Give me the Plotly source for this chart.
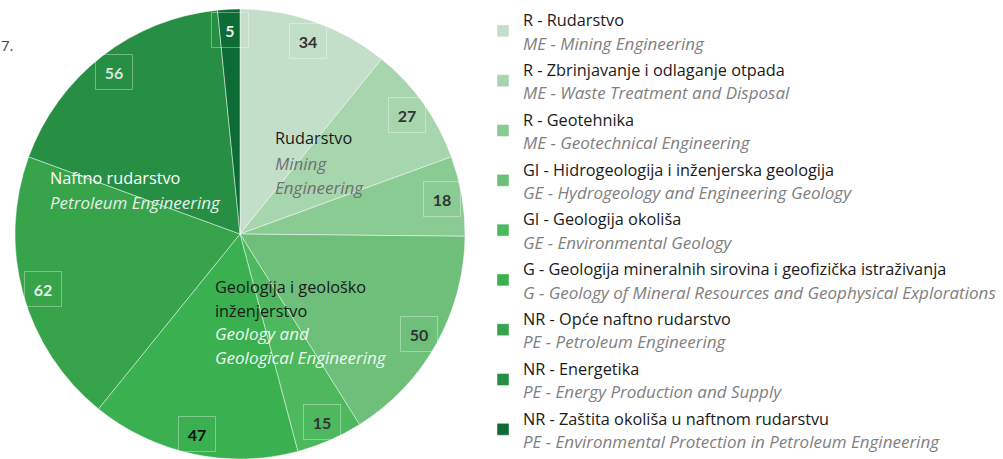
import math
import plotly.graph_objects as go

# ---------------- data ----------------
codes_hr = [
    "R - Rudarstvo",
    "R - Zbrinjavanje i odlaganje otpada",
    "R - Geotehnika",
    "GI - Hidrogeologija i inženjerska geologija",
    "GI - Geologija okoliša",
    "G - Geologija mineralnih sirovina i geofizička istraživanja",
    "NR - Opće naftno rudarstvo",
    "NR - Energetika",
    "NR - Zaštita okoliša u naftnom rudarstvu",
]
codes_en = [
    "ME - Mining Engineering",
    "ME - Waste Treatment and Disposal",
    "ME - Geotechnical Engineering",
    "GE - Hydrogeology and Engineering Geology",
    "GE - Environmental Geology",
    "G - Geology of Mineral Resources and Geophysical Explorations",
    "PE - Petroleum Engineering",
    "PE - Energy Production and Supply",
    "PE - Environmental Protection in Petroleum Engineering",
]
values = [34, 27, 18, 50, 15, 47, 62, 56, 5]
colors = ["#c4dfc9", "#a6d5ae", "#8acb94", "#6dbf79", "#4eb85f",
          "#3bb050", "#37a44c", "#278f44", "#0d6b36"]
value_text_colors = ["#333333", "#333333", "#333333", "#333333", "#333333",
                     "#111111", "#e4ece4", "#d8e6d8", "#e8f0e8"]

# ---------------- layout constants ----------------
W, H = 1003, 459
MT, MB, ML, MR = 9, 0, 0, 0
PW, PH = W - ML - MR, H - MT - MB
DOM_X = [0, 480 / PW]
FONT = "'Open Sans', Lato, sans-serif"
NUMFONT = "Lato, 'Open Sans', sans-serif"
REG, ITA = 16.3, 17

labels = [f"<span style='font-size:{REG}px'>{a}</span><br>"
          f"<span style='font-size:{ITA}px;color:#808080'><i>{b}</i></span>"
          for a, b in zip(codes_hr, codes_en)]

fig = go.Figure()
fig.add_trace(go.Pie(
    labels=labels,
    values=values,
    sort=False,
    direction="clockwise",
    rotation=0,
    marker=dict(colors=colors, line=dict(color="rgba(255,255,255,0.45)", width=1)),
    textinfo="none",
    hoverinfo="skip",
    domain=dict(x=DOM_X, y=[0, 1]),
    showlegend=True,
))

# value labels placed along each slice's mid-angle, near the rim
cx_px = (DOM_X[0] + DOM_X[1]) / 2 * PW
cy_px = PH / 2
R = min((DOM_X[1] - DOM_X[0]) * PW, PH) / 2
total = sum(values)
cum = 0
annotations = []
for v, tc in zip(values, value_text_colors):
    mid = (cum + v / 2) / total * 2 * math.pi
    cum += v
    r = 0.91 * R
    px = cx_px + r * math.sin(mid)
    py = cy_px - r * math.cos(mid)
    annotations.append(dict(
        x=px / PW, y=1 - py / PH, xref="paper", yref="paper",
        text=f"<b>{v}</b>", showarrow=False,
        font=dict(family=NUMFONT, size=16, color=tc),
        width=36, height=34, align="center", valign="middle",
        bordercolor="rgba(255,255,255,0.35)", borderwidth=1, borderpad=0,
        xanchor="center", yanchor="middle",
    ))

def txt(x, y, text, color, italic=False, size=REG):
    if italic:
        text = f"<i>{text}</i>"
        size = ITA
    annotations.append(dict(
        x=x / PW, y=1 - (y - MT) / PH, xref="paper", yref="paper",
        text=text, showarrow=False, xanchor="left", yanchor="middle",
        font=dict(family=FONT, size=size, color=color), align="left",
    ))

# group labels
txt(273, 138, "Rudarstvo", "#1a1a1a")
txt(273, 163, "Mining", "#707070", True)
txt(273, 187, "Engineering", "#707070", True)

txt(48, 178, "Naftno rudarstvo", "#ffffff")
txt(48, 202, "Petroleum Engineering", "#e6f0e6", True)

txt(213, 287, "Geologija i geološko", "#1a1a1a")
txt(213, 311, "inženjerstvo", "#1a1a1a")
txt(213, 333, "Geology and", "#f0f6f0", True)
txt(213, 357, "Geological Engineering", "#f0f6f0", True)

txt(-1, 45, "7.", "#444444", size=15)

fig.update_layout(
    width=W, height=H,
    margin=dict(l=ML, r=MR, t=MT, b=MB, autoexpand=False),
    paper_bgcolor="white",
    plot_bgcolor="white",
    annotations=annotations,
    legend=dict(
        x=483 / PW, xref="paper", xanchor="left",
        y=1 - 1 / H, yref="container", yanchor="top",
        maxheight=600,
        font=dict(family=FONT, size=18, color="#1a1a1a"),
        valign="middle",
        bgcolor="rgba(0,0,0,0)",
        itemclick=False, itemdoubleclick=False,
    ),
)

fig.write_html("out.html", config={"displayModeBar": False},
               post_script="document.body.style.margin='0';")
